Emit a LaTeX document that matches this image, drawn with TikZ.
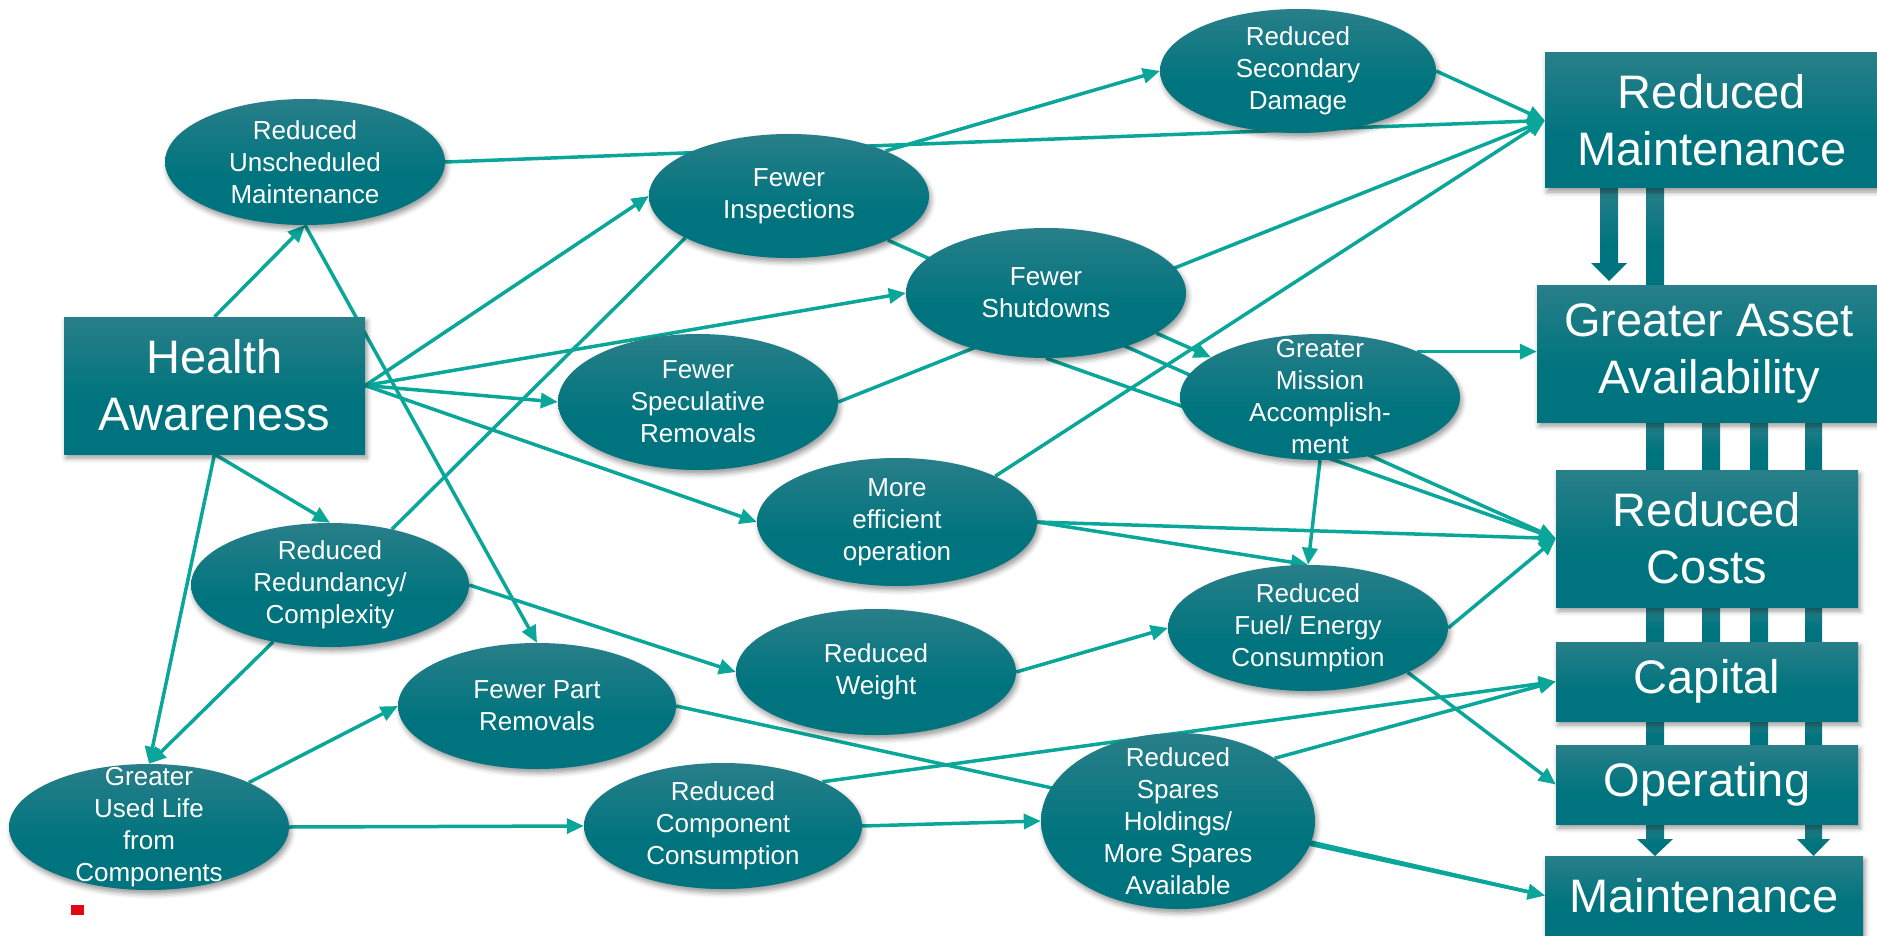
\documentclass[tikz,border=0pt]{standalone}
\usepackage{fontspec}
\setmainfont{Liberation Sans}
\usetikzlibrary{shapes.geometric,arrows.meta,shadows.blur}
\definecolor{tealdark}{RGB}{0,116,126}
\definecolor{teallight}{RGB}{74,136,146}
\definecolor{linec}{RGB}{10,166,154}
\definecolor{markred}{RGB}{227,6,19}
\pgfdeclareverticalshading{tealgrad}{100bp}{color(0bp)=(tealdark); color(45bp)=(tealdark); color(100bp)=(teallight)}
\pgfdeclarelayer{background}
\pgfsetlayers{background,main}
\tikzset{
  shd/.style={blur shadow={shadow xshift=2pt, shadow yshift=-4pt, shadow blur radius=5pt, shadow opacity=40}},
  ell/.style={ellipse, shade, shading=tealgrad, inner sep=0pt, shd},
  etxt/.style={text=white, font=\fontsize{26}{32}\selectfont, align=center, inner sep=0pt},
  bx/.style={rectangle, shade, shading=tealgrad, inner sep=0pt, text=white, font=\fontsize{47}{57}\selectfont, align=center, shd},
  bar/.style={shade, shading=tealgrad},
  arr/.style={draw=linec, line width=3.5pt, -{Triangle[length=17pt,width=15pt]}},
  ln/.style={draw=linec, line width=3.5pt},
}
\begin{document}
\begin{tikzpicture}[x=1pt,y=-1pt]
\useasboundingbox (0,0) rectangle (1877,936);

% block arrows in the right column
\shade[bar] (1600,188) -- (1618,188) -- (1618,263) -- (1627,263) -- (1609,281) -- (1591,263) -- (1600,263) -- cycle;
\shade[bar] (1646,188) rectangle (1664,285);
\shade[bar] (1646,422) rectangle (1664,470);
\shade[bar] (1646,607) rectangle (1664,642);
\shade[bar] (1646,721) rectangle (1664,745);
\shade[bar] (1646,824) -- (1664,824) -- (1664,839) -- (1673,839) -- (1655,856) -- (1637,839) -- (1646,839) -- cycle;
\shade[bar] (1702,422) rectangle (1720,470);
\shade[bar] (1702,607) rectangle (1720,642);
\shade[bar] (1750,422) rectangle (1768,470);
\shade[bar] (1750,607) rectangle (1768,642);
\shade[bar] (1750,721) rectangle (1768,745);
\shade[bar] (1805,422) rectangle (1822,470);
\shade[bar] (1805,607) rectangle (1822,642);
\shade[bar] (1805,721) rectangle (1822,745);
\shade[bar] (1805,824) -- (1822,824) -- (1822,839) -- (1830,839) -- (1813.5,856) -- (1797,839) -- (1805,839) -- cycle;

% boxes
\node[bx, minimum width=301pt, minimum height=137pt] (HA) at (214.5,385.5) {Health\\Awareness};
\node[bx, minimum width=334pt, minimum height=135pt] (RM) at (1712,120.5) {Reduced\\Maintenance};
\node[bx, minimum width=344pt, minimum height=137pt] (GAA) at (1709,353.5) {Greater Asset\\Availability};
\node[bx, minimum width=302pt, minimum height=137pt] (RC) at (1707,538.5) {Reduced\\Costs};
\node[bx, minimum width=302pt, minimum height=79pt] (Cap) at (1707,681.5) {Capital};
\node[bx, minimum width=302pt, minimum height=79pt] (Op) at (1707,784.5) {Operating};
\node[bx, minimum width=318pt, minimum height=79pt] (Maint) at (1704,895.5) {Maintenance};

% ellipses
\node[ell, minimum width=280pt, minimum height=126pt] (Unsch) at (305,162) {};
\node[etxt] at (Unsch) {Reduced\\Unscheduled\\Maintenance};
\node[ell, minimum width=280pt, minimum height=124pt] (FI) at (789,196) {};
\node[etxt] at (FI) {Fewer\\Inspections};
\node[ell, minimum width=276pt, minimum height=124pt] (RSD) at (1298,71) {};
\node[etxt] at (RSD) {Reduced\\Secondary\\Damage};
\node[ell, minimum width=280pt, minimum height=130pt] (FS) at (1046,293) {};
\node[etxt] at (FS) {Fewer\\Shutdowns};
\node[ell, minimum width=280pt, minimum height=136pt] (Spec) at (698,402) {};
\node[etxt] at (Spec) {Fewer\\Speculative\\Removals};
\node[ell, minimum width=280pt, minimum height=126pt] (GM) at (1320,397) {};
\node[etxt] at (GM) {Greater\\Mission\\Accomplish-\\ment};
\node[ell, minimum width=280pt, minimum height=128pt] (MEO) at (897,522) {};
\node[etxt] at (MEO) {More\\efficient\\operation};
\node[ell, minimum width=278pt, minimum height=124pt] (Red) at (330,585) {};
\node[etxt] at (Red) {Reduced\\Redundancy/\\Complexity};
\node[ell, minimum width=278pt, minimum height=126pt] (FPR) at (537,706) {};
\node[etxt] at (FPR) {Fewer Part\\Removals};
\node[ell, minimum width=280pt, minimum height=126pt] (W) at (876,672) {};
\node[etxt] at (W) {Reduced\\Weight};
\node[ell, minimum width=278pt, minimum height=126pt] (RCC) at (723,826) {};
\node[etxt] at (RCC) {Reduced\\Component\\Consumption};
\node[ell, minimum width=280pt, minimum height=126pt] (Fuel) at (1308,628) {};
\node[etxt] at (Fuel) {Reduced\\Fuel/ Energy\\Consumption};
\node[ell, minimum width=274pt, minimum height=176pt] (Sp) at (1178,821) {};
\node[etxt] at (Sp) {Reduced\\Spares\\Holdings/\\More Spares\\Available};
\node[ell, minimum width=280pt, minimum height=126pt] (GUL) at (149,827) {};
\node[etxt] at (GUL) {Greater\\Used Life\\from\\Components};

\fill[markred] (71,905) rectangle (84,915);

\begin{pgfonlayer}{background}
\draw[arr] (HA.north) -- (Unsch.south);
\draw[arr] (Unsch.south) -- (FPR.north);
\draw[arr] (HA.east) -- (FI.west);
\draw[arr] (HA.east) -- (FS.west);
\draw[arr] (HA.east) -- (Spec.west);
\draw[arr] (HA.east) -- (MEO.west);
\draw[arr] (HA.south) -- (Red.north);
\draw[arr] (HA.south) -- (GUL.north);
\draw[arr] (Unsch.east) -- (RM.west);
\draw[arr] (RSD.east) -- (RM.west);
\draw[arr] (Spec.east) -- (RM.west);
\draw[arr] (MEO.25) -- (RM.west);
\draw[arr] (FI.25) -- (RSD.west);
\draw[arr] (FI) -- (RC.west);
\draw[arr] (FS.south) -- (RC.west);
\draw[arr] (FS.-20) -- (GM.160);
\draw[arr] (GM.25) -- (GM.25 -| GAA.west);
\draw[arr] (GM.south) -- (Fuel.north);
\draw[arr] (MEO.east) -- (Fuel.north);
\draw[arr] (MEO.east) -- (RC.west);
\draw[ln] (Red.42) -- (FI.202);
\draw[arr] (Red.225) -- (GUL.north);
\draw[arr] (Red.east) -- (W.west);
\draw[arr] (W.east) -- (Fuel.west);
\draw[arr] (Fuel.east) -- (RC.west);
\draw[arr] (Fuel.-24) -- (Op.west);
\draw[arr] (GUL.24) -- (FPR.west);
\draw[arr] (GUL.east) -- (RCC.west);
\draw[arr] (RCC.east) -- (Sp.west);
\draw[arr] (RCC.24) -- (Cap.west);
\draw[arr] (Sp.33) -- (Cap.west);
\draw[arr] (Sp.-9) -- (Maint.west);
\draw[arr] (FPR.east) -- (Maint.west);
\end{pgfonlayer}
\end{tikzpicture}
\end{document}
